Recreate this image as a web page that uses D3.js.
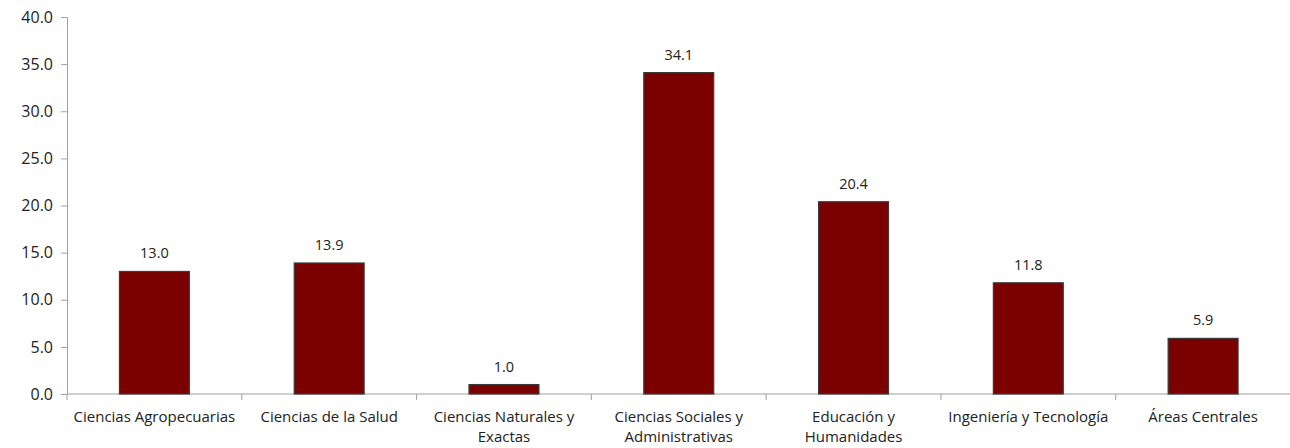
<!DOCTYPE html>
<html>
<head>
<meta charset="utf-8">
<script src="https://cdn.jsdelivr.net/npm/d3@7"></script>
<style>
  body { margin: 0; background: #fff; }
  text { font-family: "Open Sans", "Noto Sans", sans-serif; fill: #222; }
</style>
</head>
<body>
<div id="chart"></div>
<script>
// Données
const categories = [
    ["Ciencias Agropecuarias"],
    ["Ciencias de la Salud"],
    ["Ciencias Naturales y", "Exactas"],
    ["Ciencias Sociales y", "Administrativas"],
    ["Educación y", "Humanidades"],
    ["Ingeniería y Tecnología"],
    ["Áreas Centrales"]
];
const values = [13.0, 13.9, 1.0, 34.1, 20.4, 11.8, 5.9];
const yTicks = [0, 5, 10, 15, 20, 25, 30, 35, 40];

const width = 1290, height = 448;
const margin = { top: 17, right: 0, bottom: 54, left: 67 };

const svg = d3.select("#chart")
    .append("svg")
    .attr("width", width)
    .attr("height", height);

const keys = categories.map(c => c.join(" "));

const x = d3.scaleBand()
    .domain(keys)
    .range([margin.left, 1290.5])
    .paddingInner(0.6)
    .paddingOuter(0.3);

const y = d3.scaleLinear()
    .domain([0, 40])
    .range([height - margin.bottom, margin.top]);

// Axe Y
const yAxis = svg.append("g")
    .attr("transform", `translate(${margin.left},0)`)
    .call(d3.axisLeft(y).tickValues(yTicks).tickSize(6).tickFormat(d3.format(".1f")));
yAxis.selectAll("path, line").attr("stroke", "#a0a0a0");
yAxis.selectAll("text").style("font-size", "16px").attr("dx", "-5px");

// Axe X (ticks entre les catégories)
const step = x.step();
const x0 = margin.left;
const bounds = d3.range(keys.length + 1).map(i => x0 + i * step);
svg.append("line")
    .attr("x1", x0).attr("x2", width)
    .attr("y1", y(0)).attr("y2", y(0))
    .attr("stroke", "#a0a0a0");
svg.append("g").selectAll("line")
    .data(bounds)
    .enter().append("line")
    .attr("x1", d => d).attr("x2", d => d)
    .attr("y1", y(0)).attr("y2", y(0) + 6)
    .attr("stroke", "#a0a0a0");

// Barres
svg.append("g").selectAll("rect")
    .data(values)
    .enter().append("rect")
    .attr("x", (d, i) => x(keys[i]))
    .attr("width", x.bandwidth())
    .attr("y", d => y(d))
    .attr("height", d => y(0) - y(d))
    .attr("fill", "#7b0000")
    .attr("stroke", "#3a3a3a")
    .attr("stroke-width", 1.2);

// Étiquettes des valeurs
svg.append("g").selectAll("text")
    .data(values)
    .enter().append("text")
    .attr("x", (d, i) => x(keys[i]) + x.bandwidth() / 2)
    .attr("y", d => y(d) - 13)
    .attr("text-anchor", "middle")
    .style("font-size", "14.5px")
    .text(d => d.toFixed(1));

// Étiquettes des catégories
const lab = svg.append("g").selectAll("text")
    .data(categories)
    .enter().append("text")
    .attr("text-anchor", "middle")
    .attr("transform", (d, i) => `translate(${x0 + (i + 0.5) * step},${y(0) + 28})`)
    .style("font-size", "15px");
lab.selectAll("tspan")
    .data(d => d)
    .enter().append("tspan")
    .attr("x", 0)
    .attr("dy", (d, i) => i === 0 ? 0 : 20)
    .text(d => d);
</script>
</body>
</html>
